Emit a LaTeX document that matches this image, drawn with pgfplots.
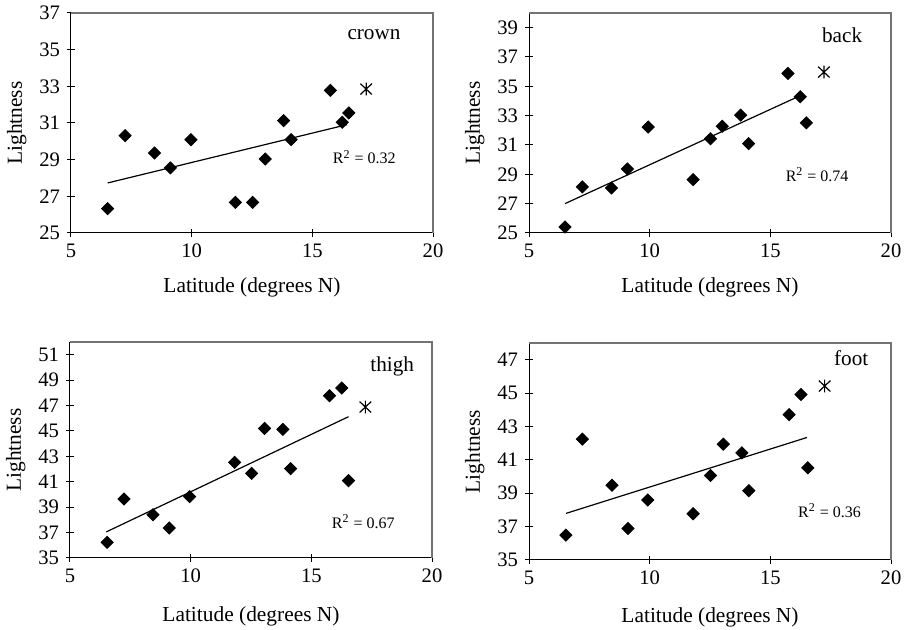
\documentclass[border=0pt]{standalone}
\usepackage{fontspec}
\setmainfont{Liberation Serif}
\usepackage{pgfplots}
\pgfplotsset{compat=1.18}

% Excel-like star: vertical bar plus an X
\pgfdeclareplotmark{xast}{%
  \pgfpathmoveto{\pgfqpoint{0pt}{\pgfplotmarksize}}%
  \pgfpathlineto{\pgfqpoint{0pt}{-\pgfplotmarksize}}%
  \pgfpathmoveto{\pgfqpoint{-.9\pgfplotmarksize}{.85\pgfplotmarksize}}%
  \pgfpathlineto{\pgfqpoint{.9\pgfplotmarksize}{-.85\pgfplotmarksize}}%
  \pgfpathmoveto{\pgfqpoint{-.9\pgfplotmarksize}{-.85\pgfplotmarksize}}%
  \pgfpathlineto{\pgfqpoint{.9\pgfplotmarksize}{.85\pgfplotmarksize}}%
  \pgfusepathqstroke}

\pgfplotsset{
  lightness/.style={
    scale only axis, width=181pt,
    xmin=5, xmax=20, xtick={5,10,15,20},
    axis lines*=left,
    axis line style={-, black, line width=0.5pt},
    tick align=center, major tick length=4pt,
    tick style={black, line width=0.5pt},
    ticklabel style={font=\fontsize{10.3}{12}\selectfont},
    /pgf/number format/assume math mode=true,
    xlabel={Latitude (degrees N)}, ylabel={Lightness},
    label style={font=\fontsize{10.7}{12}\selectfont},
    ylabel style={at={(axis description cs:-0.15,0.5)}, anchor=center},
    xlabel style={at={(axis description cs:0.5,0)}, anchor=center, yshift=-27pt},
    clip=false,
    after end axis/.code={\draw[black!55, line width=0.6pt] (rel axis cs:0,1) -- (rel axis cs:1,1) -- (rel axis cs:1,0);},
  },
  dia/.style={only marks, mark=square*, mark size=2.15pt, mark options={rotate=45, fill=black, draw=black}},
  ast/.style={only marks, mark=xast, mark size=3.2pt, mark options={line width=0.6pt, black}},
  trend/.style={black, line width=0.6pt, no marks},
}
\newcommand{\panelname}[3]{\node[font=\fontsize{10.6}{12}\selectfont] at (rel axis cs:#1,#2) {#3};}
\newcommand{\rsq}[3]{\node[font=\fontsize{8}{9}\selectfont] at (rel axis cs:#1,#2) {R\textsuperscript{2} = #3};}

\begin{document}
\begin{tikzpicture}
\useasboundingbox (0,0) rectangle (454.5pt,315pt);

% crown
\begin{axis}[lightness, at={(35.5pt,198.5pt)}, anchor=south west, height=110pt,
  ymin=25, ymax=37, ytick={25,27,...,37}]
\addplot[dia] coordinates {
 (6.52,26.33) (7.24,30.31) (8.46,29.36) (9.12,28.55) (9.97,30.09)
 (11.81,26.67) (12.53,26.67) (13.05,29.04) (13.81,31.13) (14.12,30.09)
 (15.75,32.78) (16.24,31.04) (16.51,31.55)};
\addplot[ast] coordinates {(17.23,32.85)};
\addplot[trend] coordinates {(6.52,27.73) (16.44,30.91)};
\panelname{0.837}{0.9}{crown}
\rsq{0.81}{0.345}{0.32}
\end{axis}

% back
\begin{axis}[lightness, at={(264.5pt,198.5pt)}, anchor=south west, height=110pt,
  ymin=25, ymax=40, ytick={25,27,...,39}]
\addplot[dia] coordinates {
 (6.49,25.41) (7.21,28.14) (8.42,28.07) (9.08,29.37) (9.94,32.22)
 (11.80,28.64) (12.52,31.42) (13.01,32.28) (13.77,33.04) (14.10,31.10)
 (15.73,35.88) (16.24,34.29) (16.49,32.51)};
\addplot[ast] coordinates {(17.22,35.97)};
\addplot[trend] coordinates {(6.49,27.0) (16.14,34.29)};
\panelname{0.865}{0.9}{back}
\rsq{0.796}{0.265}{0.74}
\end{axis}

% thigh
\begin{axis}[lightness, at={(35pt,36pt)}, anchor=south west, height=108pt,
  ymin=35, ymax=52, ytick={35,37,...,51},
  xlabel style={yshift=-2pt}]
\addplot[dia] coordinates {
 (6.54,36.23) (7.24,39.64) (8.44,38.41) (9.11,37.36) (9.96,39.83)
 (11.82,42.53) (12.53,41.66) (13.06,45.20) (13.82,45.12) (14.14,42.03)
 (15.75,47.77) (16.26,48.38) (16.54,41.09)};
\addplot[ast] coordinates {(17.24,46.88)};
\addplot[trend] coordinates {(6.50,37.05) (16.54,46.12)};
\panelname{0.89}{0.888}{thigh}
\rsq{0.81}{0.167}{0.67}
\end{axis}

% foot
\begin{axis}[lightness, at={(264.5pt,35pt)}, anchor=south west, height=108.5pt,
  ymin=35, ymax=48, ytick={35,37,...,47},
  xlabel style={yshift=-1.5pt}]
\addplot[dia] coordinates {
 (6.53,36.49) (7.21,42.24) (8.44,39.48) (9.10,36.89) (9.92,38.59)
 (11.80,37.77) (12.52,40.06) (13.05,41.94) (13.82,41.42) (14.11,39.15)
 (15.78,43.71) (16.27,44.91) (16.55,40.52)};
\addplot[ast] coordinates {(17.25,45.42)};
\addplot[trend] coordinates {(6.53,37.79) (16.52,42.34)};
\panelname{0.89}{0.93}{foot}
\rsq{0.83}{0.226}{0.36}
\end{axis}
\end{tikzpicture}
\end{document}
